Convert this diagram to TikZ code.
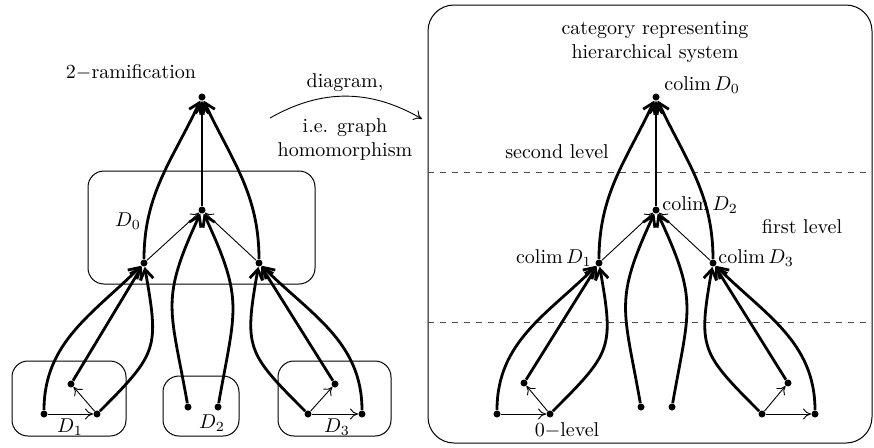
\documentclass[tikz,border=0pt]{standalone}
\usetikzlibrary{arrows.meta}
\begin{document}
\begin{tikzpicture}[x=0.5pt,y=0.5pt,
  dot/.style={circle,fill,inner sep=0pt,minimum size=3.5pt},
  tharrow/.style={line width=1.4pt,-{Straight Barb[length=5pt,width=6.5pt]}},
  tnarrow/.style={line width=0.45pt,-{To[length=4pt,width=5.5pt]}},
  box/.style={draw,rounded corners=8pt,line width=0.5pt},
  level/.style={draw=black!70,dashed,line width=0.5pt},
  ]
\useasboundingbox (0,0) rectangle (874,447);
% ---------- left: 2-ramification ----------
\draw[box] (88,163) rectangle (315,276);
\draw[box] (12,11) rectangle (126,86);
\draw[box] (163,11) rectangle (239,71);
\draw[box] (278,11) rectangle (391,86);
\node at (131,375) {$2-$ramification};
\node at (128,226) {$D_0$};
\node at (70,20) {$D_1$};
\node at (212,24) {$D_2$};
\node at (337,20) {$D_3$};
\node[dot] (T) at (202,350) {};
\node[dot] (C) at (202,237) {};
\node[dot] (L) at (144,184) {};
\node[dot] (R) at (259,184) {};
\node[dot] (a1) at (44,33) {};
\node[dot] (b1) at (97,33) {};
\node[dot] (c1) at (71,63) {};
\node[dot] (d2a) at (188,40) {};
\node[dot] (d2b) at (218,40) {};
\node[dot] (a3) at (308,33) {};
\node[dot] (b3) at (362,33) {};
\node[dot] (c3) at (335,63) {};
\draw[tnarrow] (a1) -- (b1);
\draw[tnarrow] (b1) -- (c1);
\draw[tnarrow] (a3) -- (b3);
\draw[tnarrow] (a3) -- (c3);
\draw[tharrow] (a1) to[out=90,in=225] (L);
\draw[tharrow] (c1) -- (L);
\draw[tharrow] (b1) to[out=45,in=280,looseness=1.4] (L);
\draw[tharrow] (d2a) to[out=100,in=245,looseness=1.3] (C);
\draw[tharrow] (d2b) to[out=80,in=295,looseness=1.3] (C);
\draw[tharrow] (a3) to[out=135,in=260,looseness=1.4] (R);
\draw[tharrow] (c3) -- (R);
\draw[tharrow] (b3) to[out=90,in=315] (R);
\draw[tnarrow] (L) -- (C);
\draw[tnarrow] (R) -- (C);
\draw[tharrow] (C) -- (T);
\draw[tharrow] (L) to[out=90,in=245] (T);
\draw[tharrow] (R) to[out=90,in=295] (T);
% ---------- middle arrow ----------
\coordinate (fs) at (270,329);
\coordinate (fe) at (422,328);
\draw[tnarrow] (fs) to[bend left=30] (fe);
\node at (345,364) {diagram,};
\node[align=center] at (345,308) {i.e. graph\\homomorphism};
% ---------- right: category ----------
\draw[draw,rounded corners=13pt,line width=0.5pt] (428,4) rectangle (872,442);
\draw[level] (428,275) -- (872,275);
\draw[level] (428,125) -- (872,125);
\node[align=center] at (655,405) {category representing\\hierarchical system};
\node at (557,295) {second level};
\node at (802,220) {first level};
\node at (567,17) {$0-$level};
\node[dot] (T') at (656,350) {};
\node[dot] (C') at (656,237) {};
\node[dot] (L') at (599,184) {};
\node[dot] (R') at (713,184) {};
\node[dot] (a1') at (497,33) {};
\node[dot] (b1') at (550,33) {};
\node[dot] (c1') at (524,64) {};
\node[dot] (d2a') at (641,40) {};
\node[dot] (d2b') at (672,40) {};
\node[dot] (a3') at (762,33) {};
\node[dot] (b3') at (815,33) {};
\node[dot] (c3') at (788,64) {};
\node[anchor=west,inner sep=1pt] at (662,362) {colim\,$D_0$};
\node[anchor=west,inner sep=1pt] at (660,242) {colim\,$D_2$};
\node[anchor=east,inner sep=1pt] at (594,189) {colim\,$D_1$};
\node[anchor=west,inner sep=1pt] at (716,189) {colim\,$D_3$};
\draw[tnarrow] (a1') -- (b1');
\draw[tnarrow] (b1') -- (c1');
\draw[tnarrow] (a3') -- (b3');
\draw[tnarrow] (a3') -- (c3');
\draw[tharrow] (a1') to[out=90,in=225] (L');
\draw[tharrow] (c1') -- (L');
\draw[tharrow] (b1') to[out=45,in=280,looseness=1.4] (L');
\draw[tharrow] (d2a') to[out=100,in=245,looseness=1.3] (C');
\draw[tharrow] (d2b') to[out=80,in=295,looseness=1.3] (C');
\draw[tharrow] (a3') to[out=135,in=260,looseness=1.4] (R');
\draw[tharrow] (c3') -- (R');
\draw[tharrow] (b3') to[out=90,in=315] (R');
\draw[tnarrow] (L') -- (C');
\draw[tnarrow] (R') -- (C');
\draw[tharrow] (C') -- (T');
\draw[tharrow] (L') to[out=90,in=245] (T');
\draw[tharrow] (R') to[out=90,in=295] (T');
\end{tikzpicture}
\end{document}
